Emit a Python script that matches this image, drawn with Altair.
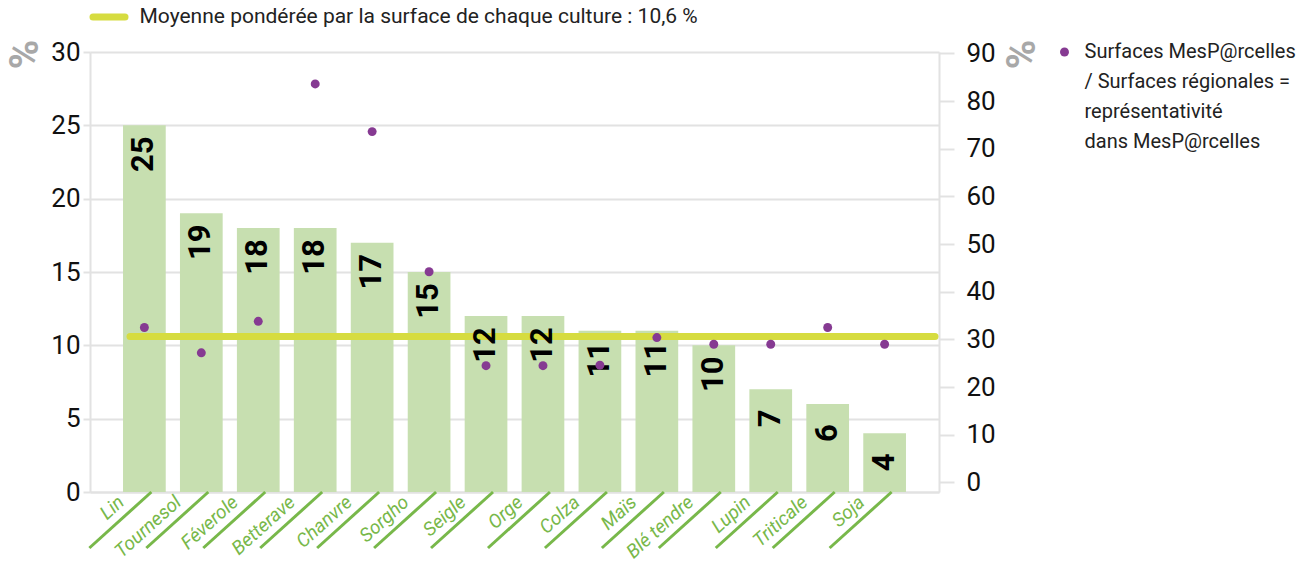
import altair as alt
import pandas as pd

# ---------------- data ----------------
cultures = ["Lin", "Tournesol", "Féverole", "Betterave", "Chanvre", "Sorgho", "Seigle",
            "Orge", "Colza", "Maïs", "Blé tendre", "Lupin", "Triticale", "Soja"]
part_pct = [25, 19, 18, 18, 17, 15, 12, 12, 11, 11, 10, 7, 6, 4]
representativite = [32.5, 27.2, 33.8, 83.6, 73.6, 44.2, 24.5, 24.5, 24.6, 30.4, 29.0, 29.0, 32.5, 29.0]
moyenne = 10.6
left_ticks = [0, 5, 10, 15, 20, 25, 30]
right_ticks = [0, 10, 20, 30, 40, 50, 60, 70, 80, 90]
legend_moyenne = "Moyenne pondérée par la surface de chaque culture : 10,6 %"
legend_points = ["Surfaces MesP@rcelles", "/ Surfaces régionales =", "représentativité", "dans MesP@rcelles"]

df = pd.DataFrame({"culture": cultures, "part": part_pct, "rep": representativite})

# ---------------- style ----------------
W, H = 849, 440
FONT = "Roboto"
GREEN_BAR = "#c7dfb0"
GREEN_TXT = "#78b84a"
PURPLE = "#863a92"
YELLOW = "#d6dc40"
GRID = "#e2e2e2"
PCT = "#a8a8a8"

x_scale = alt.Scale(paddingInner=0.25, paddingOuter=0.58)
x_enc = alt.X(
    "culture:N", sort=cultures, scale=x_scale,
    axis=alt.Axis(title=None, labelAngle=-42, labelAlign="right", labelBaseline="middle",
                  labelOffset=-23, labelPadding=7, labelColor=GREEN_TXT, labelFont=FONT,
                  labelFontSize=19, labelFontStyle="italic", ticks=False, domainColor=GRID,
                  domainWidth=2, grid=False, labelOverlap=False),
)
x_plain = alt.X("culture:N", sort=cultures, scale=x_scale)

y_left = alt.Y(
    "part:Q", scale=alt.Scale(domain=[0, 30], nice=False, zero=True),
    axis=alt.Axis(values=left_ticks, title="%", titleAngle=270, titleX=-65, titleY=2,
                  titleAlign="center", titleBaseline="middle", titleColor=PCT,
                  titleFontSize=40, titleFontWeight="bold", titleFont=FONT,
                  labelFont=FONT, labelFontSize=26, labelColor="#111", labelPadding=3,
                  tickSize=7, tickColor=GRID, tickWidth=2, domainColor=GRID, domainWidth=2,
                  grid=True, gridColor=GRID, gridWidth=2),
)

base = alt.Chart(df)

bars = base.mark_bar(color=GREEN_BAR).encode(x=x_enc, y=y_left)

bar_labels = base.mark_text(angle=270, align="center", baseline="middle", yOffset=29,
                            font=FONT, fontSize=31, fontWeight="bold", color="#000").encode(
    x=x_plain, y=alt.Y("part:Q"), text=alt.Text("part:Q"))

mean_rule = alt.Chart(pd.DataFrame({"part": [moyenne]})).mark_rule(
    color=YELLOW, strokeWidth=7, strokeCap="round").encode(
    y=alt.Y("part:Q"), x=alt.value(40), x2=alt.value(845))

diag = base.mark_rule(color=GREEN_TXT, strokeWidth=3, xOffset=7, x2Offset=-55).encode(
    x=x_plain, x2=alt.X2("culture"), y=alt.value(H), y2=alt.value(H + 56))

left_layer = alt.layer(bars, diag, mean_rule, bar_labels)

points = base.mark_circle(size=80, color=PURPLE, opacity=1).encode(
    x=x_plain,
    y=alt.Y("rep:Q", scale=alt.Scale(domain=[-2, 90.3], nice=False, zero=False),
            axis=alt.Axis(orient="right", values=right_ticks, title="%", titleAngle=270,
                          titleX=83.5, titleY=2, titleAlign="center", titleBaseline="middle",
                          titleColor=PCT, titleFontSize=40, titleFontWeight="bold",
                          titleFont=FONT, labelFont=FONT, labelFontSize=26, labelColor="#111",
                          labelPadding=12, tickSize=15, tickColor=GRID, tickWidth=2,
                          domainColor=GRID, domainWidth=2, grid=False)),
)

# ---------------- legends ----------------
leg_df = pd.DataFrame({"t": [legend_moyenne]})
leg1_line = alt.Chart(leg_df).mark_rule(color=YELLOW, strokeWidth=7, strokeCap="round").encode(
    x=alt.value(3), x2=alt.value(35), y=alt.value(-35))
leg1_text = alt.Chart(leg_df).mark_text(align="left", baseline="middle", font=FONT,
                                        fontSize=21, color="#222").encode(
    x=alt.value(49.5), y=alt.value(-35), text="t:N")

leg2_df = pd.DataFrame({"t": ["\n".join(legend_points)]})
leg2_dot = alt.Chart(leg2_df).mark_circle(size=80, color=PURPLE, opacity=1).encode(
    x=alt.value(974.5), y=alt.value(0))
leg2_text = alt.Chart(leg2_df).mark_text(align="left", baseline="top", font=FONT, fontSize=20,
                                         color="#222", lineBreak="\n", lineHeight=30).encode(
    x=alt.value(994.5), y=alt.value(-10), text="t:N")

chart = alt.layer(left_layer, points, leg1_line, leg1_text, leg2_dot, leg2_text).resolve_scale(
    y="independent"
).properties(
    width=W, height=H,
    padding={"left": 82, "top": 44, "right": 360, "bottom": 67},
    autosize=alt.AutoSizeParams(type="none"),
    background="white",
).configure_view(stroke=None)

chart.save("out.html", embed_options={"renderer": "svg", "actions": False})
